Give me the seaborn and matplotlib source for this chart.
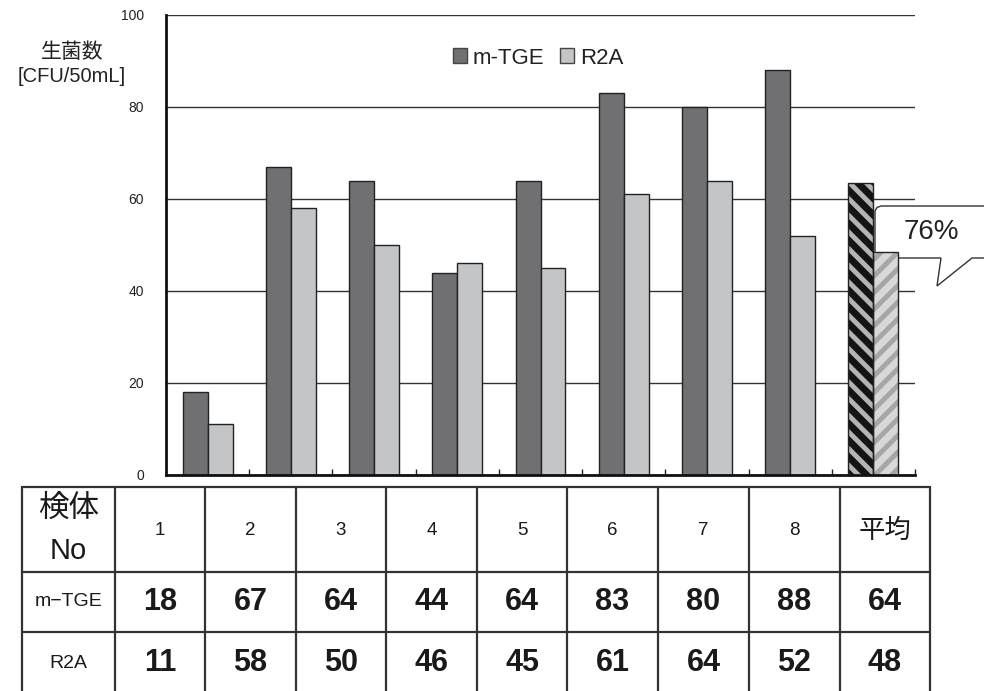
import matplotlib
matplotlib.use("Agg")
import matplotlib.pyplot as plt
import seaborn as sns
import pandas as pd
from matplotlib.patches import Patch, Polygon, Rectangle

# data
samples = ["1", "2", "3", "4", "5", "6", "7", "8", "平均"]
mtge = [18, 67, 64, 44, 64, 83, 80, 88, 63.5]
r2a = [11, 58, 50, 46, 45, 61, 64, 52, 48.4]
series = ["m-TGE", "R2A"]
ratio_label = "76%"
yticks = [0, 20, 40, 60, 80, 100]

sns.set_theme(style="white")
plt.rcParams["font.family"] = ["Liberation Sans", "Noto Sans CJK JP", "DejaVu Sans"]
plt.rcParams["hatch.linewidth"] = 3.5

W, H = 984, 691
fig = plt.figure(figsize=(W / 100, H / 100), dpi=100)

def fx(x):
    return x / W

def fy(y):
    return 1 - y / H

df = pd.DataFrame({
    "sample": samples * 2,
    "medium": [series[0]] * len(samples) + [series[1]] * len(samples),
    "count": mtge + r2a,
})

ax = fig.add_axes([fx(166), fy(475), fx(915) - fx(166), fy(15) - fy(475)])
colors = {"m-TGE": "#707073", "R2A": "#c4c5c7"}
sns.barplot(data=df, x="sample", y="count", hue="medium", order=samples,
            palette=colors, width=0.6, gap=0, edgecolor="#222222",
            linewidth=1.0, legend=False, ax=ax, zorder=2)

ax.set_ylim(0, 100)
ax.set_xlim(-0.5, len(samples) - 0.5)
ax.set_yticks(yticks)
ax.set_yticklabels([str(t) for t in yticks], fontsize=10, color="#222222")
ax.set_xticks([])
ax.set_xticks([i + 0.5 for i in range(len(samples))], minor=True)
ax.tick_params(axis="x", which="minor", direction="in", length=4, width=1,
               color="#222222", bottom=True)
ax.tick_params(axis="y", length=0, pad=16)
ax.set_xlabel("")
ax.set_ylabel("")
ax.grid(axis="y", color="#333333", linewidth=1.0)
ax.set_axisbelow(True)
for s in ["top", "right"]:
    ax.spines[s].set_visible(False)
for s in ["left", "bottom"]:
    ax.spines[s].set_color("#111111")
    ax.spines[s].set_linewidth(2.0)

# hatched average bars
avg_dark = ax.containers[0].patches[-1]
avg_light = ax.containers[1].patches[-1]
for bar, fc, hc, hatch in [(avg_dark, "#141414", "#b4b4b4", "\\\\"),
                           (avg_light, "#d8d8d8", "#a6a6a6", "//")]:
    bar.set_facecolor(fc)
    bar.set_edgecolor(hc)
    bar.set_hatch(hatch)
    bar.set_linewidth(0)
    ax.add_patch(Rectangle((bar.get_x(), bar.get_y()), bar.get_width(),
                           bar.get_height(), fill=False, edgecolor="#222222",
                           linewidth=1.0, zorder=3))

# callout bubble
pts = [(875, 258), (875, 211), (877, 207.5), (881, 206), (995, 206),
       (995, 258), (972, 258), (937, 286), (941, 258)]
bubble = Polygon([(fx(x), fy(y)) for x, y in pts], closed=True,
                 transform=fig.transFigure, facecolor="white",
                 edgecolor="#333333", linewidth=1.0, clip_on=False, zorder=1)
ax.add_patch(bubble)
fig.text(fx(931), fy(232), ratio_label, fontsize=20, color="#222222",
         ha="center", va="center")

# y label
fig.text(fx(72), fy(52), "生菌数", fontsize=15, ha="center", va="center",
         color="#222222")
fig.text(fx(72), fy(76), "[CFU/50mL]", fontsize=14.5, ha="center",
         va="center", color="#222222")

# legend
handles = [Patch(facecolor=colors[s], edgecolor="#444444", linewidth=1.0, label=s)
           for s in series]
fig.legend(handles=handles, loc="center", bbox_to_anchor=(fx(538), fy(58)),
           ncol=2, frameon=False, fontsize=16, handlelength=0.65,
           handleheight=0.65, handletextpad=0.25, columnspacing=0.7,
           labelcolor="#222222")

# table below the chart
tax = fig.add_axes([0, 0, 1, 1])
tax.set_xlim(0, W)
tax.set_ylim(H, 0)
tax.axis("off")
col_x = [22, 115, 205, 296, 386, 477, 567, 658, 749, 840, 930]
row_y = [487, 572, 632, 700]
for y in row_y[:3]:
    tax.plot([col_x[0], col_x[-1]], [y, y], color="#333333", linewidth=1.6)
for x in col_x:
    tax.plot([x, x], [row_y[0], row_y[-1]], color="#333333", linewidth=1.6)

mid = [(col_x[i] + col_x[i + 1]) / 2 for i in range(len(col_x) - 1)]
ry = [(row_y[i] + row_y[i + 1]) / 2 for i in range(2)] + [663]
tax.text(mid[0], 509, "検体", fontsize=22, ha="center", va="center", color="#1a1a1a")
tax.text(mid[0], 551, "No", fontsize=21, ha="center", va="center", color="#1a1a1a")
tax.text(mid[0], ry[1], "m−TGE", fontsize=14, ha="center", va="center", color="#1a1a1a")
tax.text(mid[0], ry[2], "R2A", fontsize=14, ha="center", va="center", color="#1a1a1a")
for i, s in enumerate(samples):
    fs = 19 if i == len(samples) - 1 else 13.5
    tax.text(mid[i + 1], ry[0] + 1, s, fontsize=fs, ha="center", va="center",
             color="#1a1a1a")
    tax.text(mid[i + 1], ry[1], f"{mtge[i]:.0f}", fontsize=22, fontweight="bold",
             ha="center", va="center", color="#1a1a1a")
    tax.text(mid[i + 1], ry[2], f"{r2a[i]:.0f}", fontsize=22, fontweight="bold",
             ha="center", va="center", color="#1a1a1a")

fig.savefig("out.png", dpi=100)
